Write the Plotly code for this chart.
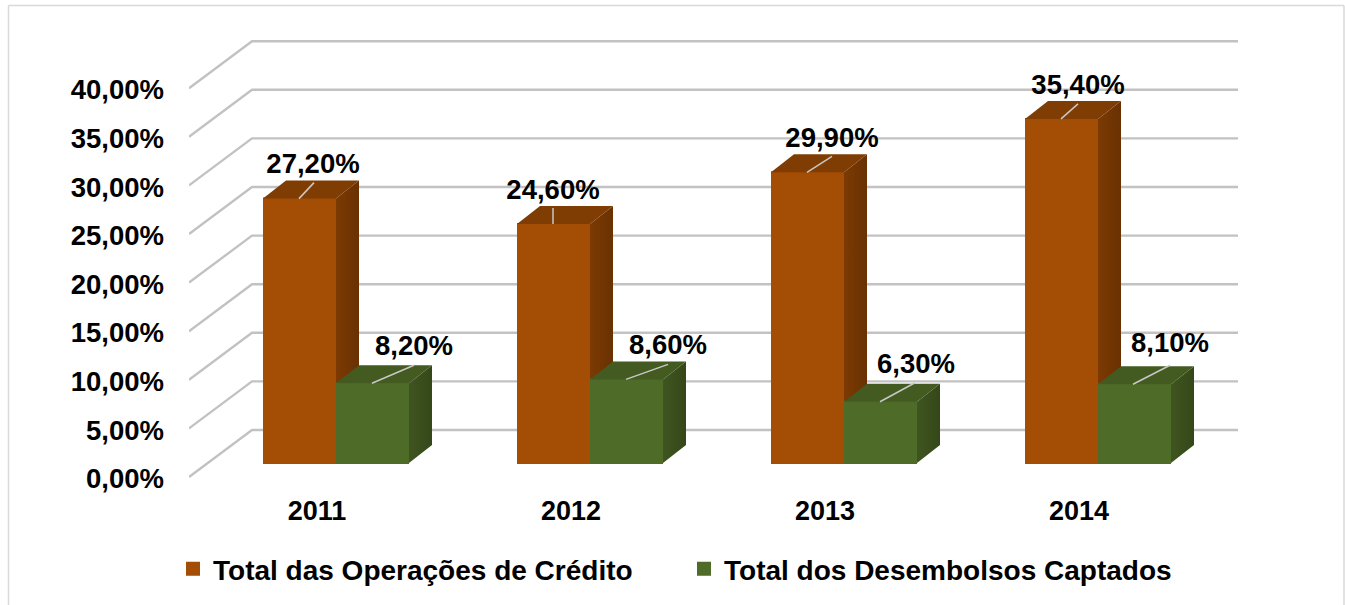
import plotly.graph_objects as go

# ---------- data ----------
YEARS = ["2011", "2012", "2013", "2014"]
CREDITO = [27.2, 24.6, 29.9, 35.4]
DESEMBOLSOS = [8.2, 8.6, 6.3, 8.1]
SERIES_1 = "Total das Operações de Crédito"
SERIES_2 = "Total dos Desembolsos Captados"
TICKS = [0, 5, 10, 15, 20, 25, 30, 35, 40]

# ---------- geometry (pixels of the reference) ----------
W, H = 1345, 605
PLOT_L, PLOT_R, PLOT_T, PLOT_B = 189, 1238, 30, 485
Y0_PX = 477
PX_Y = 9.72     # pixels per percentage point
PX_X = 254      # pixels per category
X0_PX = 336     # centre of first category


def ux(px):
    return px / PX_X


def uy(px):
    return px / PX_Y


XR = [(PLOT_L - X0_PX) / PX_X, (PLOT_R - X0_PX) / PX_X]
YR = [-(PLOT_B - Y0_PX) / PX_Y, (Y0_PX - PLOT_T) / PX_Y]
BAR_W = ux(73)
LIFT = uy(14)            # bar front sits above the axis floor front edge
BAR_DX, BAR_DY = ux(23), uy(18)
WALL_DX, WALL_DY = ux(63), uy(47)

ORANGE, ORANGE_TOP = "#A34D05", "#7F3C03"
ORANGE_S1, ORANGE_S2 = "#7C3A03", "#693102"
GREEN, GREEN_TOP = "#4F6B28", "#435B20"
GREEN_S1, GREEN_S2 = "#3F5520", "#354719"
GRID = "#C2C2C2"
FONT = "Liberation Sans"
FS = 27.5

# per label: (label dx, label dy from top-front of the bar's left edge, leader start/end)
LABEL_1 = [(50, -32, 36, 0, 51, -16), (36, -32, 36, 0, 36, -16),
           (61, -32, 36, 0, 61, -16), (53, -32, 36, 0, 53, -15)]
LABEL_2 = [(78, -35, 36, 0, 78, -18), (78, -32, 36, 0, 78, -15),
           (72, -36, 36, 0, 71, -19), (72, -39, 35, 0, 72, -19)]

fig = go.Figure()

# back wall and floor grid lines (lowest layer)
gx, gy = [], []
for t in TICKS:
    gx += [XR[0], XR[0] + WALL_DX, XR[1], None]
    gy += [t, t + WALL_DY, t + WALL_DY, None]
fig.add_trace(go.Scatter(x=gx, y=gy, mode="lines", line=dict(color=GRID, width=2.4),
                         hoverinfo="skip", showlegend=False, cliponaxis=False,
                         xaxis="x", yaxis="y"))


def add_series(name, values, offset, front, top, s1, s2, xa, ya):
    fig.add_trace(go.Bar(x=list(range(len(values))), y=values, base=LIFT, width=BAR_W - ux(2),
                         offset=offset + ux(1),
                         name=name, marker=dict(color=front, line=dict(color=front, width=2)),
                         xaxis=xa, yaxis=ya))
    for i, v in enumerate(values):
        x0 = i + offset
        x1 = x0 + BAR_W
        fig.add_trace(go.Scatter(
            x=[x1, x1 + BAR_DX, x1 + BAR_DX, x1, x1],
            y=[LIFT, LIFT + BAR_DY, LIFT + v + BAR_DY, LIFT + v, LIFT],
            mode="lines", line=dict(width=0), fill="toself",
            fillgradient=dict(type="horizontal", colorscale=[[0, s1], [1, s2]]),
            hoverinfo="skip", showlegend=False, xaxis=xa, yaxis=ya))
        fig.add_trace(go.Scatter(
            x=[x0, x1, x1 + BAR_DX, x0 + BAR_DX, x0],
            y=[LIFT + v, LIFT + v, LIFT + v + BAR_DY, LIFT + v + BAR_DY, LIFT + v],
            mode="lines", line=dict(width=0), fill="toself", fillcolor=top,
            hoverinfo="skip", showlegend=False, xaxis=xa, yaxis=ya))


add_series(SERIES_1, CREDITO, -BAR_W, ORANGE, ORANGE_TOP, ORANGE_S1, ORANGE_S2, "x2", "y2")
add_series(SERIES_2, DESEMBOLSOS, 0, GREEN, GREEN_TOP, GREEN_S1, GREEN_S2, "x3", "y3")

# data labels and leaders (top layer)
lx, ly, tx, ty, tt = [], [], [], [], []
for values, offset, spec in ((CREDITO, -BAR_W, LABEL_1), (DESEMBOLSOS, 0, LABEL_2)):
    for i, (v, s) in enumerate(zip(values, spec)):
        x0 = i + offset
        top = LIFT + v
        lx += [x0 + ux(s[2]), x0 + ux(s[4]), None]
        ly += [top + uy(s[3]), top + uy(-s[5]), None]
        tx.append(x0 + ux(s[0]))
        ty.append(top + uy(-s[1]))
        tt.append(f"{v:.2f}%".replace(".", ","))
fig.add_trace(go.Scatter(x=lx, y=ly, mode="lines", line=dict(color="#C8C8C8", width=1.5),
                         hoverinfo="skip", showlegend=False, xaxis="x3", yaxis="y3", cliponaxis=False))
fig.add_trace(go.Scatter(x=tx, y=ty, mode="text", text=tt, textposition="middle center",
                         textfont=dict(family=FONT, size=FS, color="black", weight="bold"),
                         hoverinfo="skip", showlegend=False, xaxis="x3", yaxis="y3", cliponaxis=False))

hidden_x = dict(range=XR, visible=False, fixedrange=True)
hidden_y = dict(range=YR, visible=False, fixedrange=True)
tickfont = dict(family=FONT, size=FS, color="black", weight="bold")
fig.update_layout(
    width=W, height=H, autosize=False,
    margin=dict(l=PLOT_L, r=W - PLOT_R, t=PLOT_T, b=H - PLOT_B, pad=0),
    paper_bgcolor="white", plot_bgcolor="rgba(0,0,0,0)",
    barmode="overlay", hovermode=False,
    xaxis=dict(range=XR, tickmode="array", tickvals=[i - ux(19) for i in range(4)], ticktext=YEARS,
               showgrid=False, zeroline=False, showline=False, ticks="",
               tickfont=dict(family=FONT, size=27, color="black", weight="bold"),
               ticklabelstandoff=7, fixedrange=True),
    yaxis=dict(range=YR, tickmode="array", tickvals=[t - uy(1.5) for t in TICKS],
               ticktext=[f"{t:.2f}%".replace(".", ",") for t in TICKS],
               showgrid=False, zeroline=False, showline=False, ticks="", tickfont=tickfont,
               ticklabelstandoff=24, fixedrange=True),
    xaxis2=dict(overlaying="x", anchor="y2", **hidden_x),
    yaxis2=dict(overlaying="y", anchor="x2", **hidden_y),
    xaxis3=dict(overlaying="x", anchor="y3", **hidden_x),
    yaxis3=dict(overlaying="y", anchor="x3", **hidden_y),
    legend=dict(orientation="h", xref="container", yref="container", x=173 / W, y=1 - 569 / H,
                xanchor="left", yanchor="middle", entrywidth=466, entrywidthmode="pixels",
                font=dict(family=FONT, size=28, color="black", weight="bold"),
                bgcolor="rgba(0,0,0,0)", traceorder="normal"),
    shapes=[
        dict(type="line", xref="paper", yref="paper", layer="below",
             x0=(a - PLOT_L) / (PLOT_R - PLOT_L), x1=(c - PLOT_L) / (PLOT_R - PLOT_L),
             y0=(PLOT_B - b) / (PLOT_B - PLOT_T), y1=(PLOT_B - d) / (PLOT_B - PLOT_T),
             line=dict(color="#D9D9D9", width=1.5))
        for a, b, c, d in [(8.5, 5.5, 1344, 5.5), (8.5, 5.5, 8.5, 605), (1344, 5.5, 1344, 605)]
    ],
)
fig.write_html("out.html", config={"displayModeBar": False},
               post_script="document.body.style.margin='0';")
